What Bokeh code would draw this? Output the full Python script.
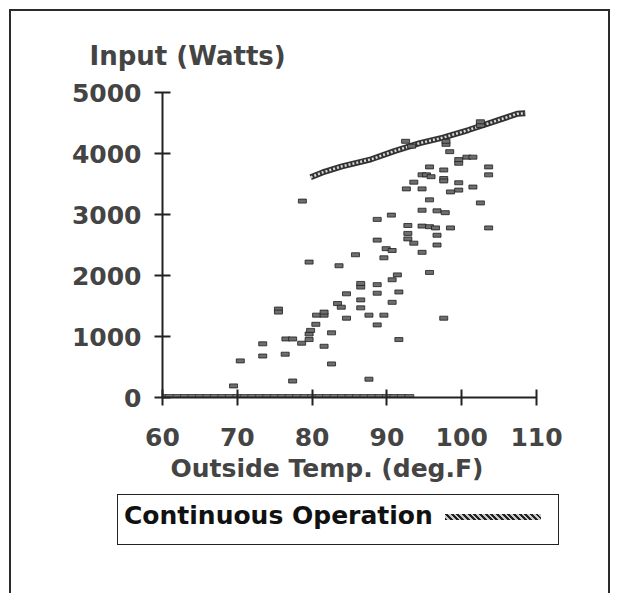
from bokeh.plotting import figure
from bokeh.models import Range1d, FixedTicker, Title, Div
from bokeh.layouts import column
from bokeh.embed import file_html
from bokeh.resources import INLINE

# ---------------- data ----------------
x_ticks = [60, 70, 80, 90, 100, 110]
y_ticks = [0, 1000, 2000, 3000, 4000, 5000]

# cycling (measured) points: outside temp (deg F), input (W)
temp = [69.5, 70.4, 73.4, 73.4, 76.5, 76.4, 77.4, 75.5, 75.5, 78.7, 79.6,
        77.4, 78.6, 79.6, 79.8, 80.5, 79.6, 80.6, 81.6, 81.6, 81.6, 82.6, 82.6,
        83.6, 83.4, 83.9, 84.6, 84.6, 85.8, 86.5, 86.5, 86.5, 86.5, 87.6, 87.6,
        88.7, 88.7, 88.7, 88.7, 88.7, 89.6, 89.6, 89.9, 90.7, 90.6, 90.7, 91.4,
        90.7, 91.6, 91.6, 92.6, 92.8, 92.8, 92.8, 93.6, 93.6, 94.7, 94.7, 94.7,
        94.7, 94.7, 95.3, 95.9, 95.7, 95.7, 95.7, 96.5, 95.7, 96.7, 97.8, 96.7,
        96.7, 97.6, 97.6, 97.6, 97.6, 98.4, 98.5, 98.5, 99.6, 99.6, 99.6, 100.7,
        101.5, 99.6, 101.5, 102.5, 103.6, 103.6, 103.6, 92.5, 93.3, 97.9, 97.9,
        102.5, 102.5]
watts = [190, 600, 880, 680, 960, 710, 270, 1450, 1400, 3220, 2220,
         960, 890, 1040, 1100, 1200, 950, 1350, 1350, 1400, 840, 1060, 550,
         2160, 1540, 1480, 1700, 1300, 2340, 1810, 1870, 1600, 1470, 1350, 300,
         1850, 1710, 1190, 2920, 2580, 1350, 2290, 2440, 2410, 2990, 1930, 2010,
         1560, 1730, 950, 3420, 2820, 2690, 2600, 2530, 3530, 3650, 3420, 3070,
         2810, 2380, 3650, 3620, 3780, 3240, 2800, 2780, 2050, 3060, 3030, 2660,
         2500, 3730, 3590, 3550, 1300, 4030, 2780, 3370, 3400, 3840, 3900, 3940,
         3940, 3520, 3450, 3190, 3780, 3650, 2780, 4200, 4120, 4150, 4200,
         4460, 4520]

# compressor-off readings (0 W) lying along the axis
off_temp = [60, 61, 62, 63, 64, 65, 66, 67, 68, 69, 70, 71, 72, 73, 74, 75, 76,
            77, 78, 79, 80, 81, 82, 83, 84, 85, 86, 87, 88, 89, 90, 91, 92, 93]
off_watts = [0] * len(off_temp)

# continuous operation curve
cont_temp = [79.8, 81.4, 84.0, 87.9, 91.0, 94.4, 97.5, 100.9, 104.0, 107.4, 108.5]
cont_watts = [3610, 3690, 3790, 3905, 4040, 4170, 4260, 4385, 4510, 4650, 4660]

series_name = "Continuous Operation"
title_text = "Input (Watts)"
xlabel_text = "Outside Temp. (deg.F)"

# ---------------- layout ----------------
W = 620
H1 = 490
H2 = 103
FL, FR, FT, FB = 162, 536, 92, 397   # frame edges in canvas px

FONT = "DejaVu Sans"
TXT = "#444444"
INK = "#222222"

p = figure(width=W, height=H1, x_range=Range1d(60, 110),
           y_range=Range1d(0, 5000), output_backend="svg",
           toolbar_location=None, min_border_left=FL,
           min_border_right=W - FR, min_border_top=FT,
           min_border_bottom=H1 - FB, outline_line_color=None)
p.grid.visible = False
p.background_fill_alpha = 0
p.border_fill_alpha = 0

for ax, ticks in ((p.xaxis[0], x_ticks), (p.yaxis[0], y_ticks)):
    ax.ticker = FixedTicker(ticks=ticks)
    ax.major_tick_in = 8
    ax.major_tick_out = 8
    ax.minor_tick_line_color = None
    ax.axis_line_width = 2
    ax.axis_line_color = INK
    ax.major_tick_line_width = 2
    ax.major_tick_line_color = INK
    ax.major_label_text_font = FONT
    ax.major_label_text_font_style = "bold"
    ax.major_label_text_font_size = "25px"
    ax.major_label_text_color = TXT
p.xaxis[0].major_label_standoff = 22
p.yaxis[0].major_label_standoff = 13

# off points band on the axis
p.rect(off_temp, off_watts, width=9, height=6, width_units="screen",
       height_units="screen", fill_color="#777777", line_color="#333333",
       line_width=0.8)

# continuous operation line (thick dithered chain)
p.line(cont_temp, cont_watts, line_width=6, line_color="#333333")
p.line(cont_temp, cont_watts, line_width=2.5, line_color="#d8d8d8",
       line_dash="2 2")

# measured points
p.rect(temp, watts, width=8, height=4, width_units="screen",
       height_units="screen", fill_color="#6e6e6e", line_color="#1e1e1e",
       line_width=0.8)

p.add_layout(Title(text=title_text, align="left", offset=-73, standoff=43,
                   text_font=FONT, text_font_style="bold",
                   text_font_size="26px", text_color=TXT), "above")
p.add_layout(Title(text=xlabel_text, align="left", offset=8, standoff=7,
                   text_font=FONT, text_font_style="bold",
                   text_font_size="25px", text_color=TXT), "below")

# legend panel (label first, then the line key, inside a box)
legend_html = f"""
<div style="position:relative; width:{W}px; height:{H2}px;">
  <div style="position:absolute; left:117px; top:4px; width:442px; height:51px;
              box-sizing:border-box; border:1.5px solid {INK};">
    <span style="position:absolute; left:6px; top:9px; line-height:24px;
                 white-space:nowrap; font-family:'{FONT}'; font-weight:bold;
                 font-size:25px; color:#111111;">{series_name}</span>
    <span style="position:absolute; left:327px; top:19px; width:96px; height:6px;
                 background:repeating-linear-gradient(45deg, #222 0 2px, #c8c8c8 2px 4px);"></span>
  </div>
</div>
"""
p2 = Div(text=legend_html, width=W, height=H2, margin=0)

g = "linear-gradient(#2b2b2b,#2b2b2b)"
layout = column(p, p2, spacing=0, styles={
    "background-color": "white",
    "background-image": f"{g}, {g}, {g}",
    "background-position": "9px 9px, 608px 9px, 9px 9px",
    "background-size": "2px 100%, 2px 100%, 601px 2px",
    "background-repeat": "no-repeat",
})

open("out.html", "w").write(file_html(layout, INLINE))
